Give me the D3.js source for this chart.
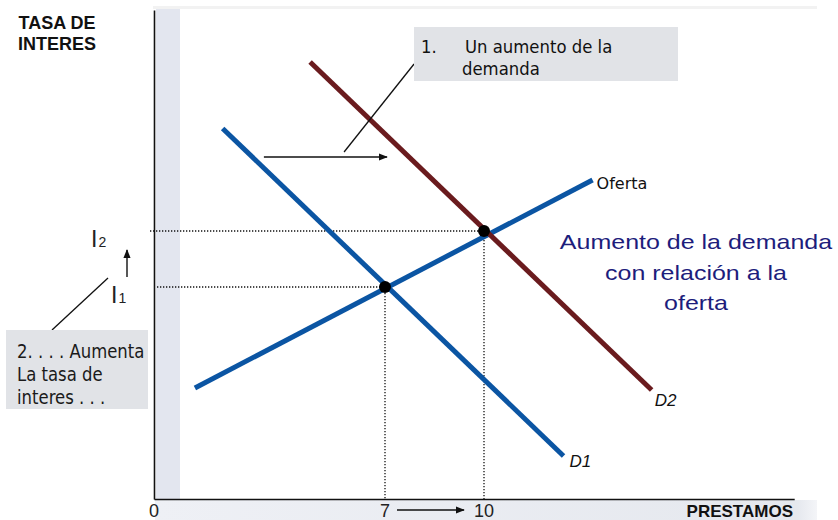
<!DOCTYPE html>
<html>
<head>
<meta charset="utf-8">
<script src="https://cdn.jsdelivr.net/npm/d3@7"></script>
<style>
  body { margin: 0; background: #fff; }
  svg { display: block; }
</style>
</head>
<body>
<svg id="chart" width="838" height="520"></svg>
<script>
// Loanable-funds market: demand for loans rises from D1 to D2 against a fixed supply.

// Curves as [loans, interest rate] end points
const supplyCurve = [[1.24, 11.1], [13.29, 31.9]];   // Oferta
const demandD1 = [[2.08, 37.05], [12.41, 4.3]];
const demandD2 = [[4.73, 43.7], [15.08, 10.9]];

// Equilibria before and after the demand shift
const equilibriumLoans = [7, 10];
const equilibriumRates = [21.2, 26.8];

// Axis labels
const xTickValues = [0, 7, 10];
const xTickLabels = ["0", "7", "10"];
const rateLabelBase = ["I", "I"];
const rateLabelSub = ["1", "2"];

// Shift arrow and callout pointer, in [loans, rate]
const shiftArrow = [[3.33, 34.2], [7.06, 34.2]];
const demandPointer = [[5.76, 34.7], [7.88, 43.5]];

const svg = d3.select("#chart");

const x = d3.scaleLinear().domain([0, 19.4]).range([154, 794.2]);
const y = d3.scaleLinear().domain([0, 48.9]).range([499, 10]);

const BLUE = "#0b55a3", MAROON = "#6a1b1e", NAVY = "#1d1d7c";

// arrow marker
const defs = svg.append("defs");
defs.append("marker")
  .attr("id", "arrow").attr("viewBox", "0 0 10 10")
  .attr("refX", 9).attr("refY", 5)
  .attr("markerWidth", 9).attr("markerHeight", 9)
  .attr("markerUnits", "userSpaceOnUse")
  .attr("orient", "auto")
  .append("path").attr("d", "M0,1 L10,5 L0,9 Z").attr("fill", "#111");

const bandGrad = defs.append("linearGradient").attr("id", "bandGrad")
  .attr("x1", "0").attr("x2", "1").attr("y1", "0").attr("y2", "0");
bandGrad.append("stop").attr("offset", "0").attr("stop-color", "#eef0f5");
bandGrad.append("stop").attr("offset", "0.97").attr("stop-color", "#e5e8ee");
bandGrad.append("stop").attr("offset", "1").attr("stop-color", "#f4f5f8");

// background frame pieces
svg.append("rect").attr("x", 153).attr("y", 6).attr("width", 664).attr("height", 3)
  .attr("fill", "#f2f2f2");
svg.append("rect").attr("x", 156).attr("y", 9).attr("width", 24).attr("height", 490)
  .attr("fill", "#e3e6ef");
svg.append("rect").attr("x", 155).attr("y", 500).attr("width", 662).attr("height", 20)
  .attr("fill", "url(#bandGrad)");

// axes (lines only, no ticks)
const xAxis = svg.append("g").attr("transform", `translate(0,${y(0)})`)
  .call(d3.axisBottom(x).tickValues([]).tickSizeOuter(0));
const yAxis = svg.append("g").attr("transform", `translate(${x(0)},0)`)
  .call(d3.axisLeft(y).tickValues([]).tickSizeOuter(0));
[xAxis, yAxis].forEach(g => g.select(".domain").attr("stroke", "#111").attr("stroke-width", 1.6));

// dotted guides from each equilibrium to the axes
const guides = svg.append("g").attr("stroke", "#111").attr("stroke-width", 1.3)
  .attr("stroke-dasharray", "1.3,1.7").attr("fill", "none");
equilibriumLoans.forEach((q, i) => {
  const r = equilibriumRates[i];
  guides.append("line")
    .attr("x1", x(0) + (i === 0 ? 3 : -4)).attr("x2", x(q))
    .attr("y1", y(r)).attr("y2", y(r));
  guides.append("line")
    .attr("x1", x(q)).attr("x2", x(q))
    .attr("y1", y(r)).attr("y2", y(0));
});

// curves
const line = d3.line().x(d => x(d[0])).y(d => y(d[1]));
svg.append("path").datum(demandD1).attr("d", line)
  .attr("stroke", BLUE).attr("stroke-width", 5).attr("fill", "none");
svg.append("path").datum(supplyCurve).attr("d", line)
  .attr("stroke", BLUE).attr("stroke-width", 5).attr("fill", "none");
svg.append("path").datum(demandD2).attr("d", line)
  .attr("stroke", MAROON).attr("stroke-width", 5).attr("fill", "none");

// equilibrium points
svg.selectAll("circle.eq").data(equilibriumLoans).join("circle")
  .attr("class", "eq")
  .attr("cx", d => x(d)).attr("cy", (d, i) => y(equilibriumRates[i]))
  .attr("r", 6).attr("fill", "#000");

// shift arrow and pointer
svg.append("path").datum(shiftArrow).attr("d", line)
  .attr("stroke", "#111").attr("stroke-width", 1.6).attr("fill", "none")
  .attr("marker-end", "url(#arrow)");
svg.append("path").datum(demandPointer).attr("d", line)
  .attr("stroke", "#111").attr("stroke-width", 1.3).attr("fill", "none");

// helper for text with a horizontal / vertical stretch
function stretchedText(parent, str, px, py, opts) {
  const sx = opts.sx || 1, sy = opts.sy || 1;
  return parent.append("text")
    .attr("transform", `translate(${px},${py}) scale(${sx},${sy})`)
    .attr("text-anchor", opts.anchor || "start")
    .attr("font-family", opts.family || "'Liberation Sans', Arial, sans-serif")
    .attr("font-size", opts.size)
    .attr("font-weight", opts.weight || "normal")
    .attr("font-style", opts.style || "normal")
    .attr("fill", opts.fill || "#111")
    .text(str);
}

// curve labels
const tahoma = "'DejaVu Sans', Verdana, sans-serif";
stretchedText(svg, "Oferta", x(supplyCurve[1][0]) + 4, 189, { size: 16, family: tahoma });
stretchedText(svg, "D1", x(demandD1[1][0]) + 6, 467, { size: 17, style: "italic" });
stretchedText(svg, "D2", x(demandD2[1][0]) + 3, 406, { size: 17, style: "italic" });

// central statement
[["Aumento de la demanda", 249], ["con relación a la", 280], ["oferta", 310]].forEach(([t, b]) => {
  stretchedText(svg, t, 696, b, { size: 21, sx: 1.19, anchor: "middle", fill: NAVY });
});

// axis titles
stretchedText(svg, "TASA DE", 57, 29, { size: 18, weight: "bold", anchor: "middle" });
stretchedText(svg, "INTERES", 57, 50, { size: 18, weight: "bold", anchor: "middle" });
stretchedText(svg, "PRESTAMOS", 793, 517, { size: 17, weight: "bold", anchor: "end" });

// x tick labels
xTickValues.forEach((v, i) => {
  stretchedText(svg, xTickLabels[i], x(v), 517, { size: 18, anchor: "middle", fill: "#222" });
});
svg.append("line")
  .attr("x1", x(7) + 12).attr("x2", x(10) - 20)
  .attr("y1", 510).attr("y2", 510)
  .attr("stroke", "#111").attr("stroke-width", 1.4)
  .attr("marker-end", "url(#arrow)");

// interest rate labels I1, I2 left of the axis
const rateLabelPos = [[111, 303], [91, 247]];
rateLabelBase.forEach((b, i) => {
  const t = svg.append("text")
    .attr("x", rateLabelPos[i][0]).attr("y", rateLabelPos[i][1])
    .attr("font-family", "'Liberation Sans', Arial, sans-serif")
    .attr("font-size", 23).attr("fill", "#222");
  t.append("tspan").text(b);
  t.append("tspan").attr("font-size", 14).attr("dx", 1).text(rateLabelSub[i]);
});
svg.append("line")
  .attr("x1", 127).attr("x2", 127).attr("y1", 277).attr("y2", 250)
  .attr("stroke", "#111").attr("stroke-width", 1.4)
  .attr("marker-end", "url(#arrow)");

// callout 1
svg.append("rect").attr("x", 414).attr("y", 27).attr("width", 264).attr("height", 54)
  .attr("fill", "#e1e3e7");
stretchedText(svg, "1.", 421, 53, { size: 16.5, sy: 1.08, family: tahoma });
stretchedText(svg, "Un aumento de la", 465, 53, { size: 16.5, sy: 1.08, family: tahoma });
stretchedText(svg, "demanda", 462, 75, { size: 16.5, sy: 1.08, family: tahoma });

// callout 2
svg.append("line").attr("x1", 52).attr("y1", 330).attr("x2", 108).attr("y2", 278)
  .attr("stroke", "#111").attr("stroke-width", 1.3);
svg.append("rect").attr("x", 6).attr("y", 330).attr("width", 142).attr("height", 79)
  .attr("fill", "#e1e3e7");
[["2. . . . Aumenta", 358], ["La tasa de", 381], ["interes . . .", 404]].forEach(([t, b]) => {
  stretchedText(svg, t, 17, b, { size: 16.5, sy: 1.15, family: tahoma, fill: "#1a1a1a" });
});
</script>
</body>
</html>
